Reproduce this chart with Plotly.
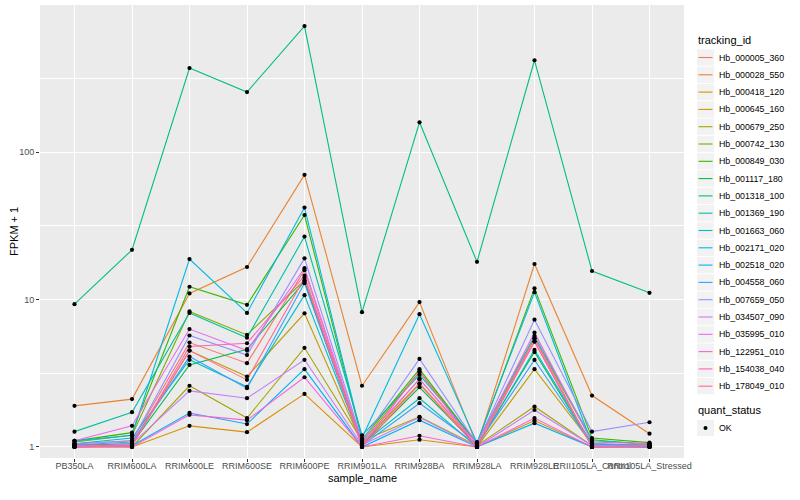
import plotly.graph_objects as go

samples = ["PB350LA", "RRIM600LA", "RRIM600LE", "RRIM600SE", "RRIM600PE", "RRIM901LA",
           "RRIM928BA", "RRIM928LA", "RRIM928LE", "RRII105LA_Control", "RRII105LA_Stressed"]

tracking_ids = ["Hb_000005_360", "Hb_000028_550", "Hb_000418_120", "Hb_000645_160", "Hb_000679_250",
                "Hb_000742_130", "Hb_000849_030", "Hb_001117_180", "Hb_001318_100", "Hb_001369_190",
                "Hb_001663_060", "Hb_002171_020", "Hb_002518_020", "Hb_004558_060", "Hb_007659_050",
                "Hb_034507_090", "Hb_035995_010", "Hb_122951_010", "Hb_154038_040", "Hb_178049_010"]

colors = ["#F8766D", "#EA8331", "#D89000", "#C09B00", "#A3A500", "#7CAE00", "#39B600", "#00BB4E",
          "#00BF7D", "#00C1A3", "#00BFC4", "#00BAE0", "#00B0F6", "#35A2FF", "#9590FF", "#C77CFF",
          "#E76BF3", "#FA62DB", "#FF62BC", "#FF6C91"]

fpkm1 = [
    [1.05, 1.10, 5.1, 3.7, 15.8, 1.02, 2.90, 1.00, 5.20, 1.00, 1.02],
    [1.90, 2.11, 11.0, 16.6, 70.0, 2.60, 9.60, 1.02, 17.4, 2.23, 1.23],
    [1.00, 1.00, 1.39, 1.26, 2.29, 1.00, 1.12, 1.00, 1.51, 1.00, 1.00],
    [1.02, 1.05, 4.5, 3.0, 8.06, 1.05, 2.70, 1.00, 3.37, 1.05, 1.02],
    [1.05, 1.00, 2.6, 1.57, 4.7, 1.10, 1.60, 1.02, 1.88, 1.02, 1.05],
    [1.08, 1.20, 8.3, 5.75, 13.5, 1.08, 3.24, 1.05, 5.46, 1.10, 1.05],
    [1.10, 1.25, 12.2, 9.2, 37.4, 1.12, 3.37, 1.05, 11.9, 1.15, 1.07],
    [1.02, 1.05, 3.6, 4.6, 13.2, 1.03, 2.54, 1.02, 4.40, 1.02, 1.00],
    [9.3, 21.7, 371.0, 255.0, 715.0, 8.2, 159.0, 18.0, 419.0, 15.6, 11.1],
    [1.27, 1.72, 8.1, 5.5, 26.7, 1.20, 3.08, 1.08, 5.66, 1.12, 1.04],
    [1.05, 1.15, 3.9, 2.56, 10.7, 1.05, 2.14, 1.00, 4.55, 1.05, 1.00],
    [1.10, 1.20, 18.8, 8.1, 42.0, 1.15, 7.95, 1.07, 11.2, 1.05, 1.03],
    [1.00, 1.02, 1.70, 1.43, 3.37, 1.00, 1.52, 1.00, 1.45, 1.00, 1.00],
    [1.03, 1.08, 4.1, 2.5, 12.9, 1.02, 1.98, 1.03, 3.89, 1.03, 1.02],
    [1.05, 1.10, 5.7, 4.2, 19.0, 1.10, 3.95, 1.05, 7.30, 1.27, 1.47],
    [1.00, 1.05, 2.4, 2.14, 3.9, 1.03, 1.59, 1.00, 1.78, 1.02, 1.03],
    [1.10, 1.39, 6.3, 4.5, 16.3, 1.08, 2.88, 1.05, 5.96, 1.08, 1.05],
    [1.00, 1.00, 1.65, 1.52, 2.97, 1.00, 1.19, 1.00, 1.57, 1.00, 1.00],
    [1.02, 1.03, 4.8, 5.05, 14.5, 1.02, 3.24, 1.00, 5.17, 1.00, 1.02],
    [1.00, 1.02, 4.5, 2.85, 14.0, 1.00, 2.67, 1.00, 5.46, 1.00, 1.02],
]

quant_status = ["OK"]

W, H = 800, 500
ML, MR, MT, MB = 40, 116, 5, 42
PW, PH = W - ML - MR, H - MT - MB


def px(x):
    return (x - ML) / PW


def py(y):
    return (H - MB - y) / PH


fig = go.Figure()
for tid, col, vals in zip(tracking_ids, colors, fpkm1):
    fig.add_trace(go.Scatter(x=samples, y=vals, mode="lines", name=tid, showlegend=False,
                             line=dict(color=col, width=1.1)))

all_x = [s for _ in fpkm1 for s in samples]
all_y = [v for row in fpkm1 for v in row]
fig.add_trace(go.Scatter(x=all_x, y=all_y, mode="markers", name=quant_status[0], showlegend=False,
                         marker=dict(color="black", size=4.2, symbol="circle")))

font_family = "Liberation Sans, Arial, sans-serif"

shapes = []
annotations = []

# axis titles
annotations.append(dict(text="sample_name", xref="paper", yref="paper", x=px(362), y=py(478),
                        xanchor="center", yanchor="middle", showarrow=False,
                        font=dict(size=11, color="black")))
annotations.append(dict(text="FPKM + 1", xref="paper", yref="paper", x=px(14), y=py(232),
                        xanchor="center", yanchor="middle", showarrow=False, textangle=-90,
                        font=dict(size=11, color="black")))

# hand-drawn ggplot-style legends
key_x0, key_w, key_h = 697, 17, 17.3
first_y = 57.5
annotations.append(dict(text="tracking_id", xref="paper", yref="paper", x=px(696), y=py(40),
                        xanchor="left", yanchor="middle", showarrow=False,
                        font=dict(size=11, color="black")))
for i, (tid, col) in enumerate(zip(tracking_ids, colors)):
    cy = first_y + i * key_h
    shapes.append(dict(type="rect", xref="paper", yref="paper", x0=px(key_x0), x1=px(key_x0 + key_w),
                       y0=py(cy - key_h / 2 + 0.5), y1=py(cy + key_h / 2 - 0.5),
                       fillcolor="#F2F2F2", line=dict(width=0), layer="above"))
    shapes.append(dict(type="line", xref="paper", yref="paper", x0=px(key_x0 + 1.5), x1=px(key_x0 + key_w - 1.5),
                       y0=py(cy), y1=py(cy), line=dict(color=col, width=1.1), layer="above"))
    annotations.append(dict(text=tid, xref="paper", yref="paper", x=px(key_x0 + key_w + 3), y=py(cy),
                            xanchor="left", yanchor="middle", showarrow=False,
                            font=dict(size=8.8, color="black")))

annotations.append(dict(text="quant_status", xref="paper", yref="paper", x=px(696), y=py(410),
                        xanchor="left", yanchor="middle", showarrow=False,
                        font=dict(size=11, color="black")))
ok_y = 428
shapes.append(dict(type="rect", xref="paper", yref="paper", x0=px(key_x0), x1=px(key_x0 + key_w),
                   y0=py(ok_y - key_h / 2 + 0.5), y1=py(ok_y + key_h / 2 - 0.5),
                   fillcolor="#F2F2F2", line=dict(width=0), layer="above"))
shapes.append(dict(type="circle", xref="paper", yref="paper", x0=px(key_x0 + key_w / 2 - 2),
                   x1=px(key_x0 + key_w / 2 + 2), y0=py(ok_y - 2), y1=py(ok_y + 2),
                   fillcolor="black", line=dict(width=0), layer="above"))
annotations.append(dict(text=quant_status[0], xref="paper", yref="paper", x=px(key_x0 + key_w + 3), y=py(ok_y),
                        xanchor="left", yanchor="middle", showarrow=False,
                        font=dict(size=8.8, color="black")))

fig.update_layout(
    width=W, height=H,
    margin=dict(l=ML, r=MR, t=MT, b=MB, autoexpand=False),
    paper_bgcolor="white", plot_bgcolor="#EBEBEB",
    font=dict(family=font_family, size=9, color="black"),
    showlegend=False,
    shapes=shapes, annotations=annotations,
    xaxis=dict(type="category", categoryorder="array", categoryarray=samples, automargin=False,
               range=[-0.6, 10.6], showgrid=True, gridcolor="white", gridwidth=1.1,
               tickangle=0, ticks="outside", ticklen=3, tickcolor="#333333", ticklabelstandoff=-4,
               tickfont=dict(size=9, color="#4D4D4D"), zeroline=False, showline=False),
    yaxis=dict(type="log", automargin=False,
               range=[-0.075, 2.997], tickvals=[1, 10, 100], ticktext=["1", "10", "100"],
               showgrid=True, gridcolor="white", gridwidth=1.1,
               minor=dict(tickvals=[10 ** -0.5, 10 ** 0.5, 10 ** 1.5, 10 ** 2.5], showgrid=True,
                          gridcolor="white", gridwidth=0.5, ticks=""),
               ticks="outside", ticklen=3, tickcolor="#333333",
               tickfont=dict(size=9, color="#4D4D4D"), zeroline=False, showline=False),
)

fig.write_html("out.html", config={"displayModeBar": False},
               post_script="document.body.style.margin='0px';document.body.style.overflow='hidden';")
